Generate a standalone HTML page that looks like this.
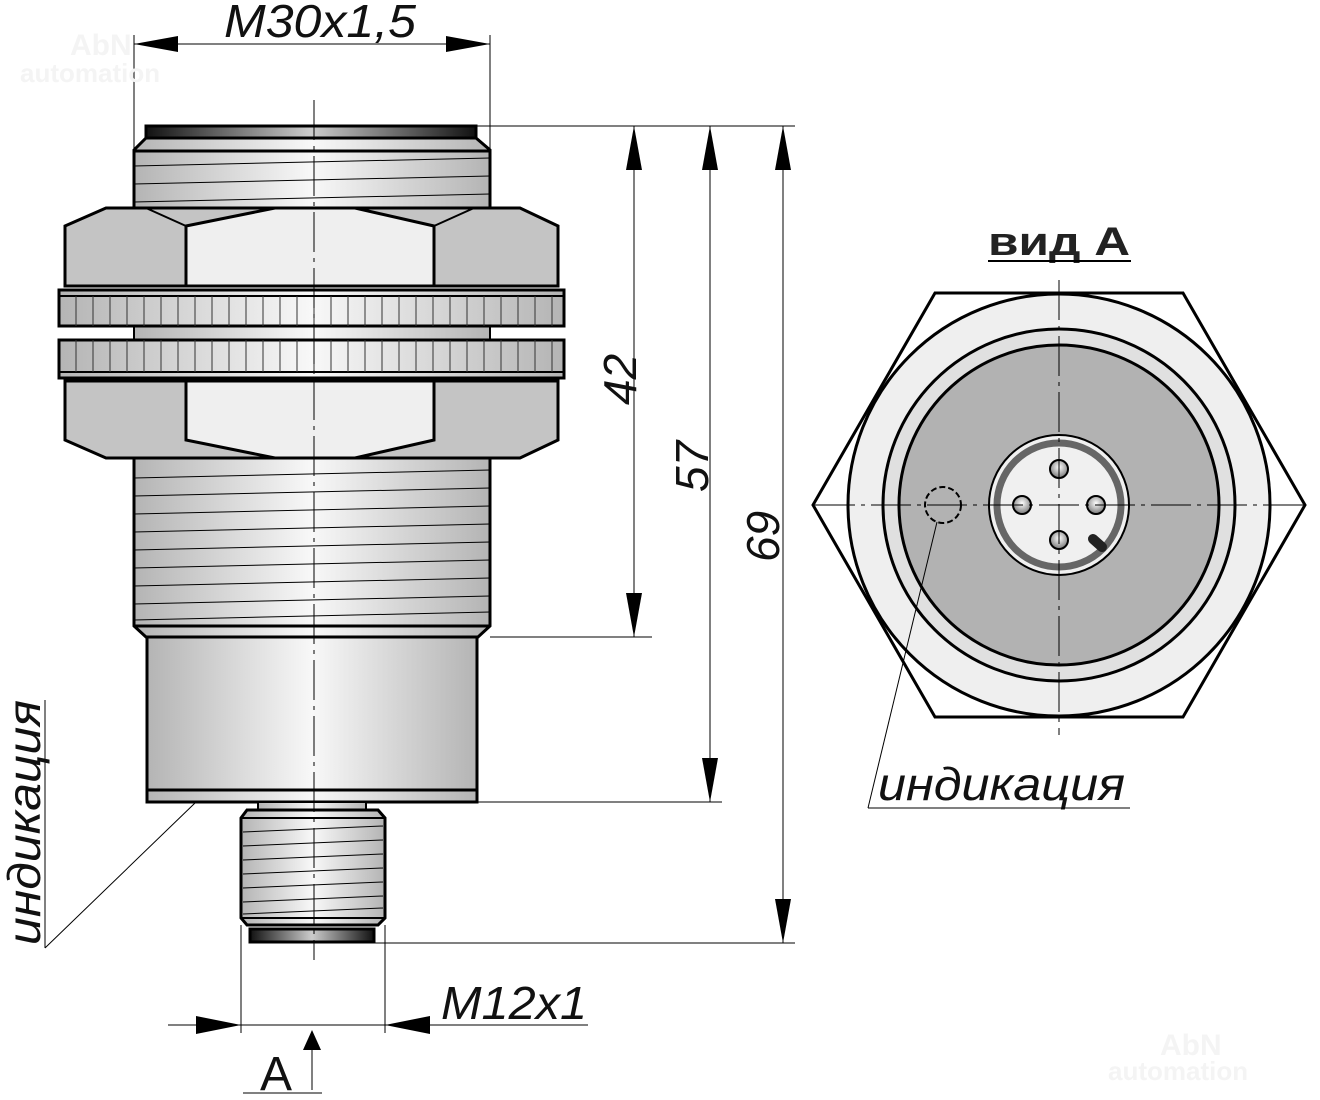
<!DOCTYPE html>
<html><head><meta charset="utf-8"><style>
html,body{margin:0;padding:0;background:#fff;width:1320px;height:1100px;overflow:hidden}
text{font-family:"Liberation Sans",sans-serif}
</style></head><body>
<svg width="1320" height="1100" viewBox="0 0 1320 1100" xmlns="http://www.w3.org/2000/svg">
<defs>
<linearGradient id="cyl" x1="0" x2="1" y1="0" y2="0">
<stop offset="0" stop-color="#b4b4b4"/><stop offset="0.5" stop-color="#f8f8f8"/><stop offset="1" stop-color="#b4b4b4"/></linearGradient>
<linearGradient id="dark" x1="0" x2="1" y1="0" y2="0">
<stop offset="0" stop-color="#111"/><stop offset="0.5" stop-color="#ccc"/><stop offset="1" stop-color="#111"/></linearGradient>
<radialGradient id="pin" cx="0.5" cy="0.4" r="0.6"><stop offset="0" stop-color="#fff"/><stop offset="1" stop-color="#777"/></radialGradient>
</defs>
<g fill="none" stroke="#000">
<rect x="146" y="126" width="330" height="12" fill="url(#dark)" stroke-width="3"/>
<path d="M146 138 L476 138 L490 150 L490 210 L134 210 L134 150 Z" fill="url(#cyl)" stroke-width="3"/>
<line x1="134" y1="151" x2="490" y2="151" stroke-width="3"/>
<g stroke-width="1"><line x1="134" y1="166" x2="490" y2="158"/><line x1="134" y1="184" x2="490" y2="176"/><line x1="134" y1="202" x2="490" y2="194"/></g>
<path d="M106 208 L520 208 L558 226 L558 286 L65 286 L65 226 Z" fill="#c4c4c4" stroke-width="3"/>
<path d="M186 226 L275 208 L355 208 L434 226 L434 286 L186 286 Z" fill="#efefef" stroke-width="3"/>
<path d="M146 208 L186 226 M474 208 L434 226" stroke-width="2"/>
<rect x="134" y="326" width="356" height="14" fill="url(#cyl)" stroke-width="2"/>
<g stroke-width="3">
<rect x="59" y="290" width="505" height="36" fill="url(#cyl)"/>
<rect x="59" y="340" width="505" height="38" fill="url(#cyl)"/>
</g>
<line x1="59" y1="296" x2="564" y2="296" stroke-width="2"/>
<line x1="59" y1="372" x2="564" y2="372" stroke-width="2"/>
<g stroke-width="1" stroke="#333">
<path d="M76 296V326M93 296V326M110 296V326M127 296V326M144 296V326M161 296V326M178 296V326M195 296V326M212 296V326M229 296V326M246 296V326M263 296V326M280 296V326M297 296V326M314 296V326M331 296V326M348 296V326M365 296V326M382 296V326M399 296V326M416 296V326M433 296V326M450 296V326M467 296V326M484 296V326M501 296V326M518 296V326M535 296V326M552 296V326"/>
<path d="M76 340V372M93 340V372M110 340V372M127 340V372M144 340V372M161 340V372M178 340V372M195 340V372M212 340V372M229 340V372M246 340V372M263 340V372M280 340V372M297 340V372M314 340V372M331 340V372M348 340V372M365 340V372M382 340V372M399 340V372M416 340V372M433 340V372M450 340V372M467 340V372M484 340V372M501 340V372M518 340V372M535 340V372M552 340V372"/>
</g>
<path d="M65 381 L558 381 L558 440 L520 458 L106 458 L65 440 Z" fill="#c4c4c4" stroke-width="3"/>
<path d="M186 381 L434 381 L434 440 L355 458 L275 458 L186 440 Z" fill="#efefef" stroke-width="3"/>
<path d="M134 458 L490 458 L490 626 L478 637 L146 637 L134 626 Z" fill="url(#cyl)" stroke-width="3"/>
<line x1="134" y1="626" x2="490" y2="626" stroke-width="3"/>
<g stroke-width="1"><line x1="134" y1="478" x2="490" y2="470"/><line x1="134" y1="496" x2="490" y2="488"/><line x1="134" y1="514" x2="490" y2="506"/><line x1="134" y1="532" x2="490" y2="524"/><line x1="134" y1="550" x2="490" y2="542"/><line x1="134" y1="568" x2="490" y2="560"/><line x1="134" y1="586" x2="490" y2="578"/><line x1="134" y1="604" x2="490" y2="596"/><line x1="134" y1="620" x2="490" y2="612"/></g>
<rect x="147" y="637" width="330" height="165" fill="url(#cyl)" stroke-width="3"/>
<line x1="147" y1="790" x2="477" y2="790" stroke-width="3"/>
<rect x="258" y="802" width="108" height="8" fill="url(#cyl)" stroke-width="2"/>
<path d="M247 810 L378 810 L385 818 L385 918 L378 925 L247 925 L241 918 L241 818 Z" fill="url(#cyl)" stroke-width="3"/>
<line x1="241" y1="818" x2="385" y2="818" stroke-width="2"/><line x1="241" y1="918" x2="385" y2="918" stroke-width="2"/>
<g stroke-width="1"><line x1="243" y1="832" x2="383" y2="826"/><line x1="243" y1="846" x2="383" y2="840"/><line x1="243" y1="860" x2="383" y2="854"/><line x1="243" y1="874" x2="383" y2="868"/><line x1="243" y1="888" x2="383" y2="882"/><line x1="243" y1="902" x2="383" y2="896"/><line x1="243" y1="914" x2="383" y2="908"/></g>
<rect x="250" y="929" width="124" height="13" fill="url(#dark)" stroke-width="3"/>
<line x1="314" y1="100" x2="314" y2="960" stroke-width="1" stroke-dasharray="40,6,4,6"/>
<g stroke-width="1">
<line x1="134" y1="35" x2="134" y2="150"/><line x1="490" y1="35" x2="490" y2="150"/>
<line x1="134" y1="44" x2="490" y2="44"/>
<line x1="476" y1="126" x2="795" y2="126"/>
<line x1="490" y1="637" x2="652" y2="637"/>
<line x1="477" y1="802" x2="722" y2="802"/>
<line x1="375" y1="943" x2="795" y2="943"/>
<line x1="634" y1="126" x2="634" y2="637"/>
<line x1="710" y1="126" x2="710" y2="802"/>
<line x1="783" y1="126" x2="783" y2="943"/>
<line x1="241" y1="925" x2="241" y2="1033"/><line x1="385" y1="925" x2="385" y2="1033"/>
<line x1="168" y1="1025" x2="588" y2="1025"/>
<line x1="312" y1="1090" x2="312" y2="1050"/>
<line x1="243" y1="1093" x2="322" y2="1093"/>
<line x1="45" y1="700" x2="45" y2="948"/><line x1="45" y1="948" x2="195" y2="803"/>
</g>
</g>
<g fill="#000">
<path d="M134 44 L178 36 L178 52 Z"/><path d="M490 44 L446 36 L446 52 Z"/>
<path d="M634 126 L626 170 L642 170 Z"/><path d="M634 637 L626 593 L642 593 Z"/>
<path d="M710 126 L702 170 L718 170 Z"/><path d="M710 802 L702 758 L718 758 Z"/>
<path d="M783 126 L775 170 L791 170 Z"/><path d="M783 943 L775 899 L791 899 Z"/>
<path d="M241 1025 L196 1016 L196 1034 Z"/><path d="M385 1025 L430 1016 L430 1034 Z"/>
<path d="M312 1030 L303 1050 L321 1050 Z"/>
</g>
<g font-style="italic" font-size="46" fill="#111">
<text x="224" y="37" textLength="192" lengthAdjust="spacingAndGlyphs">M30x1,5</text>
<text x="441" y="1019" textLength="146" lengthAdjust="spacingAndGlyphs">M12x1</text>
<text transform="translate(636,405) rotate(-90)">42</text>
<text transform="translate(708,492) rotate(-90)">57</text>
<text transform="translate(779,562) rotate(-90)">69</text>
<text transform="translate(40,945) rotate(-90)" textLength="245" lengthAdjust="spacingAndGlyphs">индикация</text>
<text x="878" y="800" textLength="247" lengthAdjust="spacingAndGlyphs">индикация</text>
</g>
<text x="260" y="1090" font-size="48" fill="#111">A</text>
<text x="988" y="255" font-size="40" font-weight="bold" fill="#222" textLength="142" lengthAdjust="spacingAndGlyphs">вид А</text>
<line x1="988" y1="261" x2="1131" y2="261" stroke="#000" stroke-width="2"/>
<g stroke="#000">
<path d="M935 293 L1183 293 L1305 505 L1183 717 L935 717 L813 505 Z" fill="#fff" stroke-width="3"/>
<circle cx="1059" cy="505" r="211" fill="#efefef" stroke-width="3"/>
<circle cx="1059" cy="505" r="176" fill="#e0e0e0" stroke-width="3"/>
<circle cx="1059" cy="505" r="160" fill="#b2b2b2" stroke-width="3"/>
<circle cx="1059" cy="505" r="70" fill="#f0f0f0" stroke-width="2"/>
<circle cx="1059" cy="505" r="62" fill="none" stroke="#666" stroke-width="7"/>
<g stroke-width="2" fill="url(#pin)">
<circle cx="1059" cy="469" r="9"/><circle cx="1059" cy="540" r="9"/><circle cx="1022" cy="505" r="9"/><circle cx="1096" cy="505" r="9"/>
</g>
<line x1="1093" y1="539" x2="1102" y2="547" stroke="#222" stroke-width="10" stroke-linecap="round"/>
<circle cx="943" cy="505" r="18" fill="none" stroke-width="2" stroke-dasharray="6,3"/>
<g stroke-width="1">
<line x1="815" y1="505" x2="1303" y2="505" stroke-dasharray="40,6,4,6"/>
<line x1="1059" y1="280" x2="1059" y2="735" stroke-dasharray="40,6,4,6"/>
<line x1="937" y1="522" x2="868" y2="808"/>
<line x1="868" y1="808" x2="1130" y2="808"/>
</g>
</g>
<g font-weight="bold" font-size="30" fill="#f4f4f4">
<text x="70" y="55">AbN</text><text x="20" y="82" font-size="26">automation</text>
<text x="1160" y="1055">AbN</text><text x="1108" y="1080" font-size="26">automation</text>
</g>
</svg>
</body></html>
